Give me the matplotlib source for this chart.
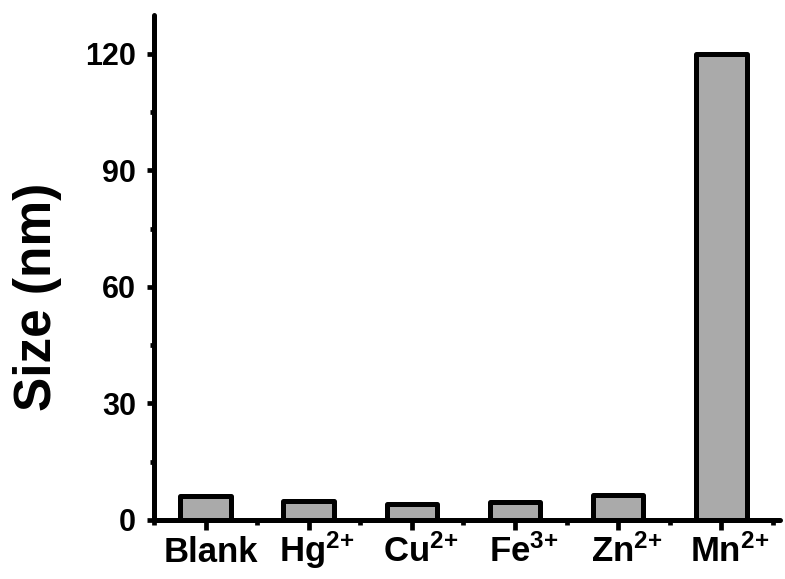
import matplotlib
matplotlib.use("Agg")
import matplotlib.pyplot as plt
import matplotlib.transforms as mtransforms
from matplotlib.ticker import FixedLocator, MultipleLocator

plt.rcParams["font.family"] = ["Liberation Sans", "DejaVu Sans"]
plt.rcParams["font.weight"] = "bold"
plt.rcParams["mathtext.fontset"] = "custom"
plt.rcParams["mathtext.rm"] = "Liberation Sans:bold"
plt.rcParams["mathtext.bf"] = "Liberation Sans:bold"
plt.rcParams["mathtext.default"] = "bf"

# Particle size measured for each condition
categories = ["Blank", "Hg$^{2{+}}$", "Cu$^{2{+}}$", "Fe$^{3{+}}$", "Zn$^{2{+}}$", "Mn$^{2{+}}$"]
sizes_nm = [6.3, 5.0, 4.2, 4.7, 6.5, 120.0]
y_ticks = [0, 30, 60, 90, 120]

fig = plt.figure(figsize=(7.85, 5.79), dpi=100)
ax = fig.add_axes([0.1962, 0.1019, 0.797, 0.872])

x = list(range(1, len(categories) + 1))
ax.bar(x, sizes_nm, width=0.49, color="#aaaaaa", edgecolor="black",
       linewidth=3.6, joinstyle="round", zorder=3, clip_on=False)

ax.set_xlim(0.5, 6.565)
ax.set_ylim(0, 130)

ax.set_xticks(x)
ax.set_xticklabels(categories, fontsize=25, fontweight="bold")
ax.xaxis.set_minor_locator(FixedLocator([i + 0.5 for i in range(0, 7)]))
ax.set_yticks(y_ticks)
ax.set_yticklabels([str(v) for v in y_ticks], fontsize=22, fontweight="bold")
ax.yaxis.set_minor_locator(MultipleLocator(15))

for side in ("top", "right"):
    ax.spines[side].set_visible(False)
for side in ("left", "bottom"):
    ax.spines[side].set_linewidth(3.6)
    ax.spines[side].set_capstyle("round")
    ax.spines[side].set_zorder(4)

ax.tick_params(axis="x", which="major", direction="out", length=7, width=3.4, pad=23)
ax.tick_params(axis="x", which="minor", direction="out", length=3.5, width=3.4)
ax.tick_params(axis="y", which="major", direction="out", length=5, width=3.4, pad=8)
ax.tick_params(axis="y", which="minor", direction="out", length=3, width=3.4)

# Baseline-align the category labels and nudge them slightly to the right
for i, lbl in enumerate(ax.get_xticklabels()):
    lbl.set_verticalalignment("baseline")
    dx = 4 / 72 if i == 0 else 6 / 72
    lbl.set_transform(lbl.get_transform() +
                      mtransforms.ScaledTranslation(dx, 0, fig.dpi_scale_trans))

# Axis title placed explicitly beside the y axis
fig.text(0.0484, 0.487, "Size (nm)", rotation=90, ha="center", va="center",
         fontsize=37, fontweight="bold")

fig.savefig("out.png", dpi=100)
